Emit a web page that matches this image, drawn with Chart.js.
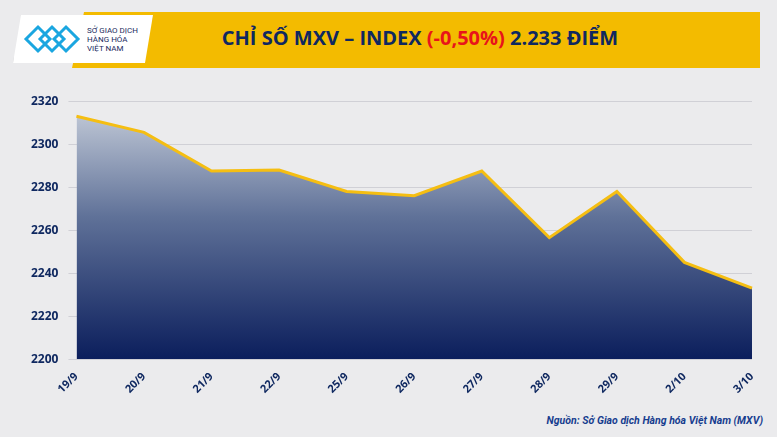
<!DOCTYPE html>
<html><head><meta charset="utf-8">
<script src="https://cdn.jsdelivr.net/npm/chart.js@4"></script>
<style>
html,body{margin:0;padding:0;}
body{width:777px;height:437px;position:relative;background:#ebebed;font-family:"Open Sans",sans-serif;overflow:hidden;}
#banner{position:absolute;left:72px;top:12px;width:688px;height:56px;background:#f3bb00;clip-path:polygon(12px 0,100% 0,100% 100%,0 100%);}
#logo{position:absolute;left:13px;top:15px;width:140px;height:48px;background:#fff;clip-path:polygon(8px 0,100% 0,132px 100%,0 100%);box-shadow:0 2px 4px rgba(0,0,0,.3);}
#logo .t{position:absolute;left:74px;top:11px;font-size:8px;line-height:9px;color:#1a2a5e;font-family:Roboto,sans-serif;}
#title{position:absolute;left:150px;top:24px;width:540px;text-align:center;font-weight:bold;font-size:20px;color:#0f2860;font-family:"Open Sans",sans-serif;}
#title span{color:#e8141a;}
#src{position:absolute;right:14px;top:414px;font-size:10.5px;font-style:italic;font-weight:bold;color:#173d8f;font-family:Roboto,sans-serif;}
#wrap{position:absolute;left:0;top:84px;width:777px;height:315px;}
</style></head><body>
<div id="banner"></div>
<div id="logo"><svg width="70" height="48" style="position:absolute;left:5px;top:0">
<g fill="none" stroke="#1aa6e0" stroke-width="3">
<path d="M8 24 L20 12 L32 24 L20 36 Z"/><path d="M22 24 L34 12 L46 24 L34 36 Z"/><path d="M36 24 L48 12 L60 24 L48 36 Z"/></g></svg>
<div class="t">SỞ GIAO DỊCH<br>HÀNG HÓA<br>VIỆT NAM</div></div>
<div id="title">CHỈ SỐ MXV – INDEX <span>(-0,50%)</span> 2.233 ĐIỂM</div>
<div id="wrap"><canvas id="c"></canvas></div>
<div id="src">Nguồn: Sở Giao dịch Hàng hóa Việt Nam (MXV)</div>
<script>
const categories=["19/9","20/9","21/9","22/9","25/9","26/9","27/9","28/9","29/9","2/10","3/10"];
const values=[2313,2305.5,2287.5,2288,2278,2276,2287.5,2256.5,2278,2245,2233];
const yMin=2200,yMax=2320,yStep=20;
const ctx=document.getElementById('c');
new Chart(ctx,{type:'line',data:{labels:categories,datasets:[{data:values,borderColor:'#f5be12',borderWidth:3,pointRadius:0,tension:0,fill:'start',
backgroundColor:(c)=>{const a=c.chart.chartArea;if(!a)return '#304070';const g=c.chart.ctx.createLinearGradient(0,a.top,0,a.bottom);g.addColorStop(0,'#c9d0dc');g.addColorStop(0.45,'#5f7198');g.addColorStop(1,'#0b1e5c');return g;}}]},
options:{responsive:true,maintainAspectRatio:false,animation:false,layout:{padding:{left:21,right:25,top:0,bottom:0}},
plugins:{legend:{display:false},tooltip:{enabled:false}},
scales:{x:{offset:false,grid:{display:false},border:{display:false},ticks:{color:'#0f2860',font:{family:'Open Sans',weight:'bold',size:11},maxRotation:45,minRotation:45}},
y:{min:yMin,max:yMax,ticks:{stepSize:yStep,color:'#0f2860',padding:10,callback:v=>String(v),font:{family:'Open Sans',weight:'bold',size:12}},grid:{color:'#d0d0d6'},border:{display:false}}}}});
</script></body></html>
